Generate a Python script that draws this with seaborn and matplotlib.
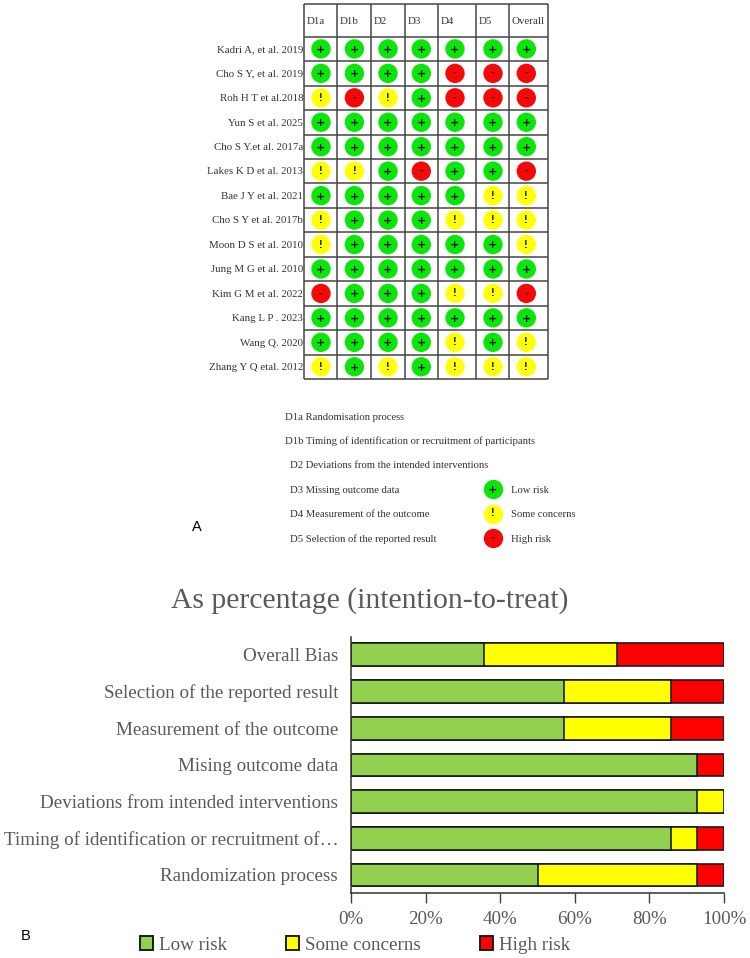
import matplotlib
matplotlib.use("Agg")
import matplotlib.pyplot as plt
from matplotlib.patches import Patch
import numpy as np
import pandas as pd
import seaborn as sns

# Risk-of-bias judgements per study: L low, S some concerns, H high
studies = ["Kadri A, et al. 2019", "Cho S Y, et al. 2019", "Roh H T et al.2018",
           "Yun S et al. 2025", "Cho S Y.et al. 2017a", "Lakes K D et al. 2013",
           "Bae J Y et al. 2021", "Cho S Y et al. 2017b", "Moon D S et al. 2010",
           "Jung M G et al. 2010", "Kim G M et al. 2022", "Kang L P . 2023",
           "Wang Q. 2020", "Zhang Y Q etal. 2012"]
domains = ["D1a", "D1b", "D2", "D3", "D4", "D5", "Overall"]
d1a = list("LLSLLSLSSLHLLS")
d1b = list("LLHLLSLLLLLLLL")
d2 = list("LLSLLLLLLLLLLS")
d3 = list("LLLLLHLLLLLLLL")
d4 = list("LHHLLLLSLLSLSS")
d5 = list("LHHLLLSSLLSLLS")
overall = list("LHHLLHSSSLHLSS")
domain_notes = [("D1a Randomisation process", 285), ("D1b Timing of identification or recruitment of participants", 285),
                ("D2 Deviations from the intended interventions", 290), ("D3 Missing outcome data", 290),
                ("D4 Measurement of the outcome", 290), ("D5 Selection of the reported result", 290)]

# Summary bars, as numbers of studies out of 14
bias_items = ["Overall Bias", "Selection of the reported result", "Measurement of the outcome",
              "Mising outcome data", "Deviations from intended interventions",
              "Timing of identification or recruitment of\u2026", "Randomization process"]
low_counts = [5, 8, 8, 13, 13, 12, 7]
some_counts = [5, 4, 4, 0, 1, 1, 6]
high_counts = [4, 2, 2, 1, 0, 1, 1]
n_studies = 14
pct_ticks = [0, 20, 40, 60, 80, 100]

W, H = 750, 958
sns.set_theme(style="white")
plt.rcParams["font.family"] = ["Liberation Serif", "DejaVu Serif"]
fig = plt.figure(figsize=(W / 100, H / 100), dpi=100, facecolor="white")


def axes_px(left, top, right, bottom):
    return fig.add_axes([left / W, 1 - bottom / H, (right - left) / W, (bottom - top) / H])


# Page-level layer in pixel units for the free-standing annotations
page = axes_px(0, 0, W, H)
page.set_xlim(0, W)
page.set_ylim(H, 0)
page.axis("off")

# ---- Panel A: traffic-light table ----
column_edges = [304, 337.3, 371, 404.7, 438, 475.7, 509.3, 548.3]
column_centres = [321, 354.4, 388, 421.3, 455, 493, 526.3]
header_bottom = 36.7
row_h = 24.45
table_bottom = header_bottom + row_h * len(studies)
light_colours = {"L": "#0ae60a", "S": "#ffff0a", "H": "#f40808"}
light_symbols = {"L": "+", "S": "!", "H": "-"}
symbol_nudge = {"L": 0.9, "S": 0.0, "H": 0.0}
ink = "#333333"
small_font = 7.8


def put_symbol(ax, x, y, key):
    ax.text(x, y + symbol_nudge[key], light_symbols[key], ha="center", va="center", fontsize=8,
            color="#101010", fontweight="bold",
            fontfamily=["DejaVu Sans"] if key == "L" else ["Liberation Sans"], zorder=4)


long_rows = []
for dom, cx, col in zip(domains, column_centres, [d1a, d1b, d2, d3, d4, d5, overall]):
    for i, judgement in enumerate(col):
        long_rows.append({"domain": dom, "x": cx, "row": header_bottom + row_h * (i + 0.5), "risk": judgement})
lights = pd.DataFrame(long_rows)

tab = axes_px(column_edges[0], 4, column_edges[-1], table_bottom)
tab.set_xlim(column_edges[0], column_edges[-1])
tab.set_ylim(table_bottom, 4)
tab.axis("off")
sns.scatterplot(data=lights, x="x", y="row", hue="risk", palette=light_colours, s=195,
                linewidth=0, legend=False, ax=tab, clip_on=False, zorder=3)
for _, r in lights.iterrows():
    put_symbol(tab, r["x"], r["row"], r["risk"])

grid_kw = dict(color="#454545", linewidth=1.1, zorder=1, clip_on=False)
tab.vlines(column_edges, 4, table_bottom, **grid_kw)
tab.hlines([4] + [header_bottom + row_h * i for i in range(len(studies) + 1)],
           column_edges[0], column_edges[-1], **grid_kw)

for edge, dom in zip(column_edges, domains):
    page.text(edge + 2.5, 21.5, dom, ha="left", va="center", fontsize=small_font, color=ink)
for i, name in enumerate(studies):
    page.text(303, header_bottom + row_h * (i + 0.5) + 0.8, name, ha="right", va="center",
              fontsize=small_font, color=ink)
for i, (note, x0) in enumerate(domain_notes):
    page.text(x0, 417 + 24.4 * i, note, ha="left", va="center", fontsize=7.7, color=ink)

for y, key, label in zip([489, 513.5, 538], "LSH", ["Low risk", "Some concerns", "High risk"]):
    page.scatter([492.5], [y], s=195, color=light_colours[key], linewidth=0, zorder=3)
    put_symbol(page, 492.5, y, key)
    page.text(511, y + 1, label, ha="left", va="center", fontsize=7.7, color=ink)

page.text(197, 527, "A", ha="center", va="center", fontsize=10.5, color="black", fontfamily=["Liberation Sans"])
page.text(25.5, 936, "B", ha="center", va="center", fontsize=10.5, color="black", fontfamily=["Liberation Sans"])

# ---- Panel B: stacked percentage bars ----
bar_colours = {"Low risk": "#92d050", "Some concerns": "#ffff00", "High risk": "#ff0000"}
to_pct = 100 / n_studies
low = np.array(low_counts) * to_pct
some = np.array(some_counts) * to_pct
high = np.array(high_counts) * to_pct

bars = axes_px(351, 636.5, 724, 893.3)
# Stacks are painted from the longest cumulative run down to the shortest
for totals, colour in [(low + some + high, bar_colours["High risk"]),
                       (low + some, bar_colours["Some concerns"]),
                       (low, bar_colours["Low risk"])]:
    sns.barplot(x=totals, y=bias_items, orient="y", color=colour, saturation=1, width=0.62,
                edgecolor="#1c1c1c", linewidth=1.2, errorbar=None, ax=bars)
bars.set_xlim(0, 100)
bars.set_ylim(len(bias_items) - 0.5, -0.5)
bars.set_xticks(pct_ticks)
bars.set_xticklabels([f"{p}%" for p in pct_ticks])
bars.set_xlabel("")
bars.set_ylabel("")
grey = "#595959"
label_font = 13.65
bars.tick_params(axis="x", length=7, width=1, color="#404040", labelsize=label_font, labelcolor=grey,
                 pad=6, bottom=True)
bars.tick_params(axis="y", length=0, labelsize=label_font, labelcolor=grey, pad=9.2)
sns.despine(ax=bars, top=True, right=True)
for side in ("left", "bottom"):
    bars.spines[side].set_color("#303030")
    bars.spines[side].set_linewidth(1.1)

page.text(369.5, 601, "As percentage (intention-to-treat)", ha="center", va="center", fontsize=21.3, color=grey)

handles = [Patch(facecolor=c, edgecolor="#1c1c1c", linewidth=1.4, label=k) for k, c in bar_colours.items()]
fig.legend(handles=handles, loc="center left", bbox_to_anchor=(140 / W, 1 - 945 / H), ncol=3, frameon=False,
           fontsize=label_font, labelcolor=grey, handlelength=0.69, handleheight=0.72, handletextpad=0.32,
           columnspacing=3.1, borderpad=0, borderaxespad=0)

fig.savefig("out.png", dpi=100, facecolor="white")
